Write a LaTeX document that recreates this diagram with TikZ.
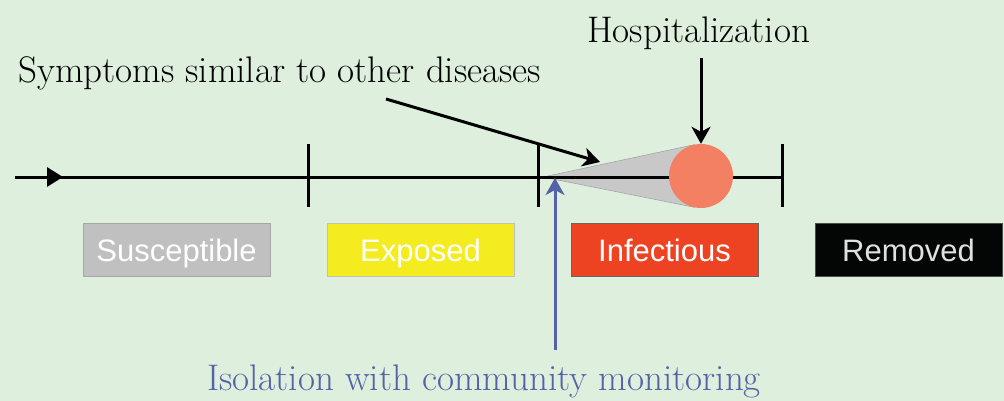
\documentclass[tikz,border=0pt]{standalone}
\usepackage{fontspec}
\setsansfont{Liberation Sans}
\usetikzlibrary{arrows.meta,calc,positioning}

\definecolor{bgcol}{RGB}{222,240,221}
\definecolor{suscol}{RGB}{192,192,192}
\definecolor{expcol}{RGB}{245,236,32}
\definecolor{infcol}{RGB}{238,67,35}
\definecolor{remcol}{RGB}{4,6,6}
\definecolor{circcol}{RGB}{243,128,98}
\definecolor{conecol}{RGB}{200,200,200}
\definecolor{isocol}{RGB}{85,98,166}

\begin{document}
\begin{tikzpicture}[x=1pt,y=-1pt,node distance={244pt}]
	\tikzstyle{phase}=[rectangle, minimum width=187pt, minimum height=53pt, inner sep=0pt, text depth=0pt, text=white, font=\sffamily\fontsize{31}{36}\selectfont]
	\tikzstyle{sus}=[fill=suscol, draw=black!35]
	\tikzstyle{exp}=[fill=expcol, draw=black!25]
	\tikzstyle{inf}=[fill=infcol, draw=black!60]
	\tikzstyle{rem}=[fill=remcol, draw=black!70, text=black!12]
	\tikzstyle{lbl}=[inner sep=0pt, anchor=base west, font=\fontsize{37}{44}\selectfont]
	\tikzstyle{tl}=[line width=3pt]
	\tikzstyle{arr}=[line width=3pt, -{Stealth[length=17pt,width=19pt,inset=5pt]}]

	\fill[bgcol] (0,0) rectangle (1004,401);
	\useasboundingbox (0,0) rectangle (1004,401);

	% timeline
	\coordinate (start) at (15,177);
	\coordinate (mid) at (63,177);
	\coordinate (t1) at (308,177);
	\coordinate (t2) at (538,177);
	\coordinate (t3) at (782,177);
	\coordinate (apex) at (543,177);
	\coordinate (hc) at (701,176);

	\fill[conecol, draw=black!35, line width=0.6pt] (apex) -- ($(hc)+(101.7:32)$) -- ($(hc)+(258.3:32)$) -- cycle;
	\draw[tl] (start) -- (t3);
	\draw[tl, -{Triangle[length=16pt,width=19pt]}] (start) -- (mid);
	\foreach \t in {t1,t2,t3}
	\draw[tl] ($(\t)+(0,-33)$) -- ($(\t)+(0,30)$);
	\node[circle, fill=circcol, minimum size=64pt, inner sep=0pt] (hosp-c) at (hc) {};

	% phases
	\node[phase,sus] (sus) at (176.5,250) {Susceptible};
	\node[phase,exp] (exp) [right of=sus] {Exposed};
	\node[phase,inf] (inf) [right of=exp] {Infectious};
	\node[phase,rem] (rem) [right of=inf] {Removed};

	% labels
	\node[lbl] (hosp) at (587,43) {Hospitalization};
	\node[lbl] (symp) at (18,83) {Symptoms similar to other diseases};
	\node[lbl, text=isocol] (iso) at (207,390) {Isolation with community monitoring};

	\coordinate (symp-from) at (386,99);
	\coordinate (symp-to) at (600,162);
	\coordinate (iso-to) at (555,178);

	\draw[arr] (symp-from) -- (symp-to);
	\draw[arr, shorten <=8pt] (hosp.south -| hosp-c.north) -- (hosp-c.north);
	\draw[arr, isocol, shorten <=14pt] (iso.north -| iso-to) -- (iso-to);
\end{tikzpicture}
\end{document}
